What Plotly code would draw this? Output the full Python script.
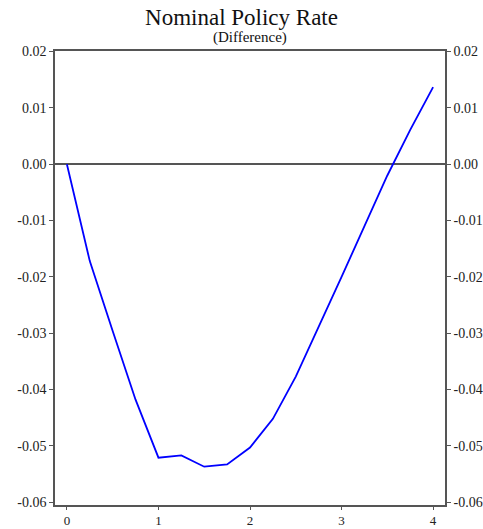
import plotly.graph_objects as go

# quarters after shock (years)
horizon = [0, 0.25, 0.5, 0.75, 1, 1.25, 1.5, 1.75, 2, 2.25, 2.5, 2.75, 3, 3.25, 3.5, 3.75, 4]
# nominal policy rate, difference from baseline
rate_diff = [0.0, -0.0172, -0.0296, -0.0418, -0.0521, -0.0517, -0.0537, -0.0533,
             -0.0503, -0.0452, -0.0377, -0.0290, -0.0200, -0.0110, -0.0020, 0.0061, 0.0137]

y_ticks = [0.02, 0.01, 0.0, -0.01, -0.02, -0.03, -0.04, -0.05, -0.06]
y_labels = ["0.02", "0.01", "0.00", "-0.01", "-0.02", "-0.03", "-0.04", "-0.05", "-0.06"]
x_ticks = [0, 1, 2, 3, 4]

axis_col = "#555555"
font = "Liberation Serif"

fig = go.Figure()
fig.add_trace(go.Scatter(x=horizon, y=rate_diff, mode="lines",
                         line=dict(color="#0000ff", width=1.8), showlegend=False))
# invisible copy so the right-hand axis gets drawn
fig.add_trace(go.Scatter(x=horizon, y=rate_diff, mode="lines", yaxis="y2",
                         line=dict(color="rgba(0,0,0,0)"), showlegend=False, hoverinfo="skip"))

yrange = [-0.0605, 0.0201]
axis_style = dict(ticks="outside", tickcolor=axis_col, showgrid=False, showline=True,
                  linecolor=axis_col, linewidth=1.5, automargin=False)
yfont = dict(family=font, size=14, color="#222222")

fig.update_layout(
    width=483, height=529,
    margin=dict(l=55, r=38, t=51, b=24),
    plot_bgcolor="white", paper_bgcolor="white",
    font=dict(family=font, size=14, color="#222222"),
    title=dict(text="Nominal Policy Rate", x=0.5, xanchor="center",
               y=1 - 17 / 529, yanchor="middle", yref="container",
               font=dict(family=font, size=23, color="#111111")),
    xaxis=dict(range=[-0.13, 4.13], tickvals=x_ticks, zeroline=False, mirror=True, ticklen=3,
               tickfont=dict(family=font, size=13, color="#222222"), **axis_style),
    yaxis=dict(range=yrange, tickvals=y_ticks, ticktext=y_labels, ticklen=4, tickfont=yfont,
               zeroline=True, zerolinecolor=axis_col, zerolinewidth=1.5, **axis_style),
    yaxis2=dict(range=yrange, tickvals=y_ticks, ticktext=y_labels, ticklen=4, tickfont=yfont,
                overlaying="y", side="right", zeroline=False, **axis_style),
)

fig.add_annotation(text="(Difference)", xref="paper", yref="paper", x=0.5, y=1 + 13 / 454,
                   xanchor="center", yanchor="middle", showarrow=False,
                   font=dict(family=font, size=15, color="#111111"))

# page body has a default 8px margin, drop it so the figure fills the window
fig.write_html("out.html", config={"displayModeBar": False},
               post_script="document.body.style.margin='0';")
